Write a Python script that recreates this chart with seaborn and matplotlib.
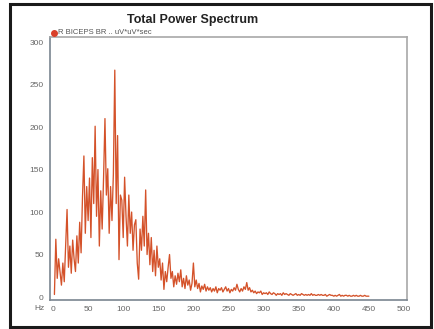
import numpy as np
import pandas as pd
import matplotlib
matplotlib.use("Agg")
import matplotlib.pyplot as plt
import seaborn as sns
from matplotlib.ticker import MultipleLocator
from matplotlib.lines import Line2D

# ---- data (power values, 2 Hz steps from 2 to 450 Hz) ----
freq_hz = np.arange(2, 451, 2)
power = [
    3, 68, 22, 45, 30, 14, 40, 18, 62, 103,          # 2-20
    35, 60, 28, 67, 45, 30, 72, 40, 88, 52,          # 22-40
    118, 166, 75, 130, 90, 140, 70, 164, 110, 201,   # 42-60
    95, 150, 60, 125, 80, 140, 210, 120, 151, 75,    # 62-80
    130, 90, 145, 267, 110, 190, 44, 120, 114, 70,   # 82-100
    141, 95, 60, 120, 75, 100, 55, 85, 91, 40,       # 102-120
    21, 80, 55, 95, 60, 126, 50, 75, 38, 70,         # 122-140
    30, 55, 25, 60, 35, 45, 20, 40, 9, 30,           # 142-160
    18, 35, 50, 22, 30, 12, 25, 15, 28, 18,          # 162-180
    32, 12, 22, 10, 25, 14, 20, 8, 16, 40,           # 182-200
    12, 20, 10, 16, 6, 13, 9, 15, 7, 12,             # 202-220
    8, 11, 6, 10, 7, 12, 5, 10, 8, 11,               # 222-240
    6, 9, 12, 7, 10, 5, 9, 7, 11, 8,                 # 242-260
    15, 9, 6, 10, 7, 12, 9, 17, 8, 11,               # 262-280
    6, 8, 5, 7, 4, 6, 5, 7, 3, 5,                    # 282-300
    4, 5, 3, 6, 4, 3, 5, 4, 2, 4,                    # 302-320
    3, 4, 2, 5, 3, 4, 3, 2, 4, 3,                    # 322-340
    2, 3, 4, 2, 3, 2, 4, 3, 2, 3,                    # 342-360
    2, 3, 2, 4, 2, 3, 2, 2, 3, 2,                    # 362-380
    3, 2, 2, 3, 1, 2, 3, 2, 2, 1,                    # 382-400
    2, 1, 2, 3, 1, 2, 1, 2, 2, 1,                    # 402-420
    2, 1, 1, 2, 1, 2, 1, 1, 2, 1,                    # 422-440
    1, 2, 1, 1, 1,                                   # 442-450
]
x_ticks = [0, 50, 100, 150, 200, 250, 300, 350, 400, 450, 500]
y_ticks = [0, 50, 100, 150, 200, 250, 300]
title_text = "Total Power Spectrum"
legend_text = "R BICEPS BR .. uV*uV*sec"

df = pd.DataFrame({"Hz": freq_hz, "power": power})

W, H = 435, 329
fig = plt.figure(figsize=(W / 100, H / 100), dpi=100)
sns.set_style("white")
plt.rcParams["font.family"] = ["Liberation Sans", "DejaVu Sans"]

# axes placement in pixels
L, R, T, B = 50, 407, 37, 300
ax = fig.add_axes([L / W, 1 - B / H, (R - L) / W, (B - T) / H])

sns.lineplot(data=df, x="Hz", y="power", ax=ax, color="#d4522a",
             linewidth=0.95, estimator=None, sort=False)

ax.set_xlim(-4.3, 504.3)
ax.set_ylim(-3.5, 306)
ax.set_xticks(x_ticks)
ax.set_yticks(y_ticks)
ax.xaxis.set_minor_locator(MultipleLocator(10))
ax.yaxis.set_minor_locator(MultipleLocator(10))
ax.tick_params(axis="both", which="major", direction="out", length=3, width=0.8,
               color="#7a8590", labelsize=6, labelcolor="#666666", pad=1.5)
ax.tick_params(axis="both", which="minor", direction="out", length=1.5, width=0.6,
               color="#7a8590")
ax.set_xlabel("")
ax.set_ylabel("")
for side, sp in ax.spines.items():
    sp.set_visible(True)
    sp.set_color("#a8a8a8")
    sp.set_linewidth(1.2)
ax.spines["left"].set_color("#7a8590")
ax.spines["bottom"].set_color("#7a8590")
ax.grid(False)

# "Hz" label next to the x tick labels
fig.text(40 / W, 1 - 308 / H, "Hz", fontsize=6, color="#666666",
         ha="center", va="center")

# title
fig.text(193 / W, 1 - 20 / H, title_text, fontsize=9, fontweight="bold",
         color="#222222", ha="center", va="center")

# legend marker + text
fig.add_artist(Line2D([54 / W], [1 - 33 / H], marker="o", markersize=4,
                      color="#d9402a", linestyle="none"))
fig.text(58 / W, 1 - 33 / H, legend_text, fontsize=5.5, color="#555555",
         ha="left", va="center")

# outer frame
fx0, fx1, fy0, fy1 = 10, 431, 4, 327
frame = plt.Rectangle((fx0 / W, 1 - fy1 / H), (fx1 - fx0) / W, (fy1 - fy0) / H,
                      transform=fig.transFigure, fill=False,
                      edgecolor="#1a1a1a", linewidth=2.2)
fig.add_artist(frame)

fig.savefig("out.png", dpi=100)
